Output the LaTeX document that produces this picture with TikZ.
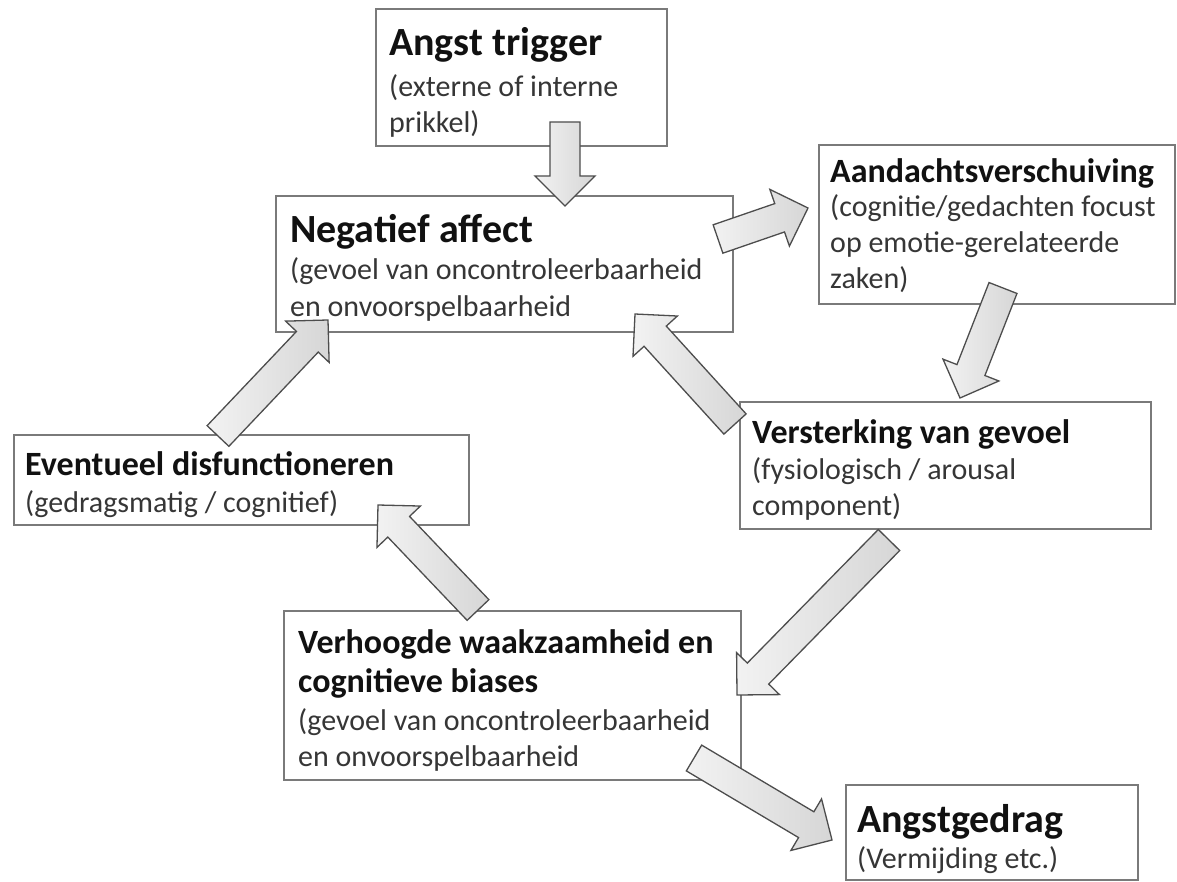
\documentclass[tikz,border=0pt]{standalone}
\usepackage{fontspec}
\setmainfont{Carlito}
\usetikzlibrary{calc}
\definecolor{boxline}{HTML}{7A7A7A}
\definecolor{arrline}{HTML}{4D4D4D}
\definecolor{subtxt}{HTML}{363636}
\definecolor{ttltxt}{HTML}{111111}
\newcommand\stk[1]{\vtop{\halign{##\hfil\cr#1\crcr}}}
\newcommand\blockarrow[2]{%
  \coordinate (ba-h) at ($(#2)!30pt!(#1)$);
  \draw[barrow] ($(#1)!15pt!90:(#2)$) -- ($(ba-h)!15pt!90:(#2)$) -- ($(ba-h)!30pt!90:(#2)$) -- (#2)
    -- ($(ba-h)!30pt!-90:(#2)$) -- ($(ba-h)!15pt!-90:(#2)$) -- ($(#1)!15pt!-90:(#2)$) -- cycle;}
\begin{document}
\begin{tikzpicture}[x=1pt,y=-1pt,
  box/.style={draw=boxline, line width=1.8pt, fill=white, inner sep=0pt, anchor=north west},
  barrow/.style={draw=arrline, line width=1.3pt, line join=miter, left color=gray!10, right color=gray!32},
  ttlbig/.style={anchor=base west, inner sep=0pt, font=\fontsize{40}{44}\selectfont\bfseries, text=ttltxt},
  ttl/.style={anchor=base west, inner sep=0pt, font=\fontsize{34}{39}\selectfont\bfseries, text=ttltxt},
  subline/.style={anchor=base west, inner sep=0pt, font=\fontsize{30}{36}\selectfont, text=subtxt}]
\useasboundingbox[fill=white] (0,0) rectangle (1177,882);
% boxes
\node[box, minimum width=291pt, minimum height=137pt] (trig) at (375,8) {};
\node[box, minimum width=457pt, minimum height=136pt] (neg) at (275,195) {};
\node[box, minimum width=356pt, minimum height=159pt] (aand) at (818,144) {};
\node[box, minimum width=411pt, minimum height=127pt] (vers) at (739,401) {};
\node[box, minimum width=455pt, minimum height=90pt] (event) at (13,434) {};
\node[box, minimum width=457pt, minimum height=169pt] (verh) at (283,610) {};
\node[box, minimum width=292pt, minimum height=95pt] (angstg) at (845,784) {};
% texts
\node[ttlbig] (trigT) at (389,56) {Angst trigger};
\node[subline] (trigS) at (389,97) {\stk{(externe of interne\cr prikkel)}};
\node[ttlbig] (negT) at (290,243) {Negatief affect};
\node[subline] (negS) at (290,280) {\stk{(gevoel van oncontroleerbaarheid\cr en onvoorspelbaarheid}};
\node[ttl] (aandT) at (830,183) {Aandachtsverschuiving};
\node[subline] (aandS) at (830,217) {\stk{(cognitie/gedachten focust\cr op emotie-gerelateerde\cr zaken)}};
\node[ttl] (versT) at (752,443) {Versterking van gevoel};
\node[subline] (versS) at (752,479) {\stk{(fysiologisch / arousal\cr component)}};
\node[ttl] (eventT) at (25,475) {Eventueel disfunctioneren};
\node[subline] (eventS) at (25,512) {(gedragsmatig / cognitief)};
\node[ttl] (verhT) at (298,653) {\stk{Verhoogde waakzaamheid en\cr cognitieve biases}};
\node[subline] (verhS) at (298,730) {\stk{(gevoel van oncontroleerbaarheid\cr en onvoorspelbaarheid}};
\node[ttlbig] (angstgT) at (857,832) {Angstgedrag};
\node[subline] (angstgS) at (857,868) {(Vermijding etc.)};
% arrow end points
\coordinate (a1s) at (565,122); \coordinate (a1e) at (565,206);
\coordinate (a2s) at (718,239); \coordinate (a2e) at (808,208);
\coordinate (a3s) at (1003,288); \coordinate (a3e) at (960,398);
\coordinate (a4s) at (735,424); \coordinate (a4e) at (635,314);
\coordinate (a5s) at (218,436); \coordinate (a5e) at (328,320);
\coordinate (a6s) at (478,610); \coordinate (a6e) at (378,505);
\coordinate (a7s) at (889,540); \coordinate (a7e) at (737,695);
\coordinate (a8s) at (694,758); \coordinate (a8e) at (832,840);
\blockarrow{a1s}{a1e}
\blockarrow{a2s}{a2e}
\blockarrow{a3s}{a3e}
\blockarrow{a4s}{a4e}
\blockarrow{a5s}{a5e}
\blockarrow{a6s}{a6e}
\blockarrow{a7s}{a7e}
\blockarrow{a8s}{a8e}
\end{tikzpicture}
\end{document}
